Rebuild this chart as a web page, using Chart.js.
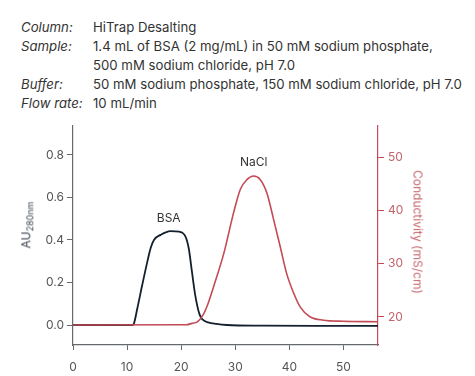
<!DOCTYPE html>
<html>
<head>
<meta charset="utf-8">
<script src="https://cdn.jsdelivr.net/npm/chart.js@4.4.0/dist/chart.umd.min.js"></script>
<style>
  html, body { margin: 0; padding: 0; background: #fff; }
  body { width: 475px; height: 376px; position: relative; overflow: hidden; font-family: Inter, Roboto, sans-serif; color: #333; }
  #chartWrap { position: absolute; left: 0; top: 0; width: 475px; height: 376px; }
  .hdr { position: absolute; font-size: 13.2px; line-height: 16px; white-space: nowrap; }
  .hdr i { position: absolute; left: 21px; }
  .hdr span { position: absolute; left: 93px; }
  .ytitle { position: absolute; font-size: 12px; white-space: nowrap; transform: translate(-50%, -50%); }
  .ytitle sub { font-size: 9px; }
</style>
</head>
<body>

<div class="hdr" style="top:19px"><i>Column:</i><span>HiTrap Desalting</span></div>
<div class="hdr" style="top:38px"><i>Sample:</i><span>1.4 mL of BSA (2 mg/mL) in 50 mM sodium phosphate,</span></div>
<div class="hdr" style="top:57px"><span>500 mM sodium chloride, pH 7.0</span></div>
<div class="hdr" style="top:76px"><i>Buffer:</i><span>50 mM sodium phosphate, 150 mM sodium chloride, pH 7.0</span></div>
<div class="hdr" style="top:95px"><i>Flow rate:</i><span>10 mL/min</span></div>

<div id="chartWrap"><canvas id="cromatograma" width="475" height="376"></canvas></div>

<div class="ytitle" style="left:27px; top:225px; color:#3a4450; transform: translate(-50%,-50%) rotate(-90deg);">AU<sub>280nm</sub></div>
<div class="ytitle" style="left:418px; top:232px; color:#c4656c; transform: translate(-50%,-50%) rotate(90deg);">Conductivity (mS/cm)</div>

<script>
// tempo (mL) e absorbancia do pico de BSA
const tempoBSA = [0, 11.0, 11.2, 11.9, 12.8, 13.75, 14.35, 14.97, 16.2, 18.0, 19.6, 20.8, 21.4, 22.0, 22.6, 23.4, 24.0, 25.0, 26.5, 28.5, 35, 45, 56.4]
const auBSA = [0, 0, 0.003, 0.079, 0.188, 0.298, 0.361, 0.40, 0.424, 0.442, 0.439, 0.416, 0.361, 0.25, 0.141, 0.05, 0.025, 0.012, 0.005, 0.0, -0.003, -0.004, -0.004]

// condutividade (NaCl)
const tempoNaCl = [0, 21.0, 22.0, 23.0, 24.0, 25.0, 26.0, 27.9, 29.7, 30.95, 32.2, 33.4, 34.6, 35.85, 37.1, 38.3, 39.5, 40.8, 42.0, 43.8, 46.3, 50, 56.4]
const condNaCl = [18.5, 18.55, 18.8, 19.1, 20.3, 22.6, 25.7, 32.0, 39.6, 44.0, 45.85, 46.5, 45.85, 43.3, 38.3, 33.3, 28.2, 24.5, 21.9, 20.05, 19.4, 19.2, 19.1]

const ticksX = [0, 10, 20, 30, 40, 50]
const ticksAU = [0, 0.2, 0.4, 0.6, 0.8]
const ticksCond = [20, 30, 40, 50]

const rotulos = [
    { texto: 'BSA', x: 17.7, y: 0.50, eixo: 'yAU' },
    { texto: 'NaCl', x: 33.4, y: 49.1, eixo: 'yCond' }
]

const corAzul = '#14202e'
const corVermelha = '#c24b55'
const corEixo = '#666a6e'
const fonte = 'Inter'

const rotulosPlugin = {
    id: 'rotulosPicos',
    afterDatasetsDraw(chart) {
        const ctx = chart.ctx
        ctx.save()
        ctx.font = '12px Inter, Roboto, sans-serif'
        ctx.fillStyle = '#333'
        ctx.textAlign = 'center'
        ctx.textBaseline = 'middle'
        rotulos.forEach(r => {
            const px = chart.scales.x.getPixelForValue(r.x)
            const py = chart.scales[r.eixo].getPixelForValue(r.y)
            ctx.fillText(r.texto, px, py)
        })
        ctx.restore()
    }
}

const fixarTicks = lista => scale => { scale.ticks = lista.map(v => ({ value: v })) }

new Chart(document.getElementById('cromatograma'), {
    type: 'line',
    data: {
        datasets: [{
            label: 'NaCl',
            data: tempoNaCl.map((t, i) => ({ x: t, y: condNaCl[i] })),
            yAxisID: 'yCond',
            borderColor: corVermelha,
            borderWidth: 1.6,
            pointRadius: 0,
            cubicInterpolationMode: 'monotone',
            order: 0
        }, {
            label: 'BSA',
            data: tempoBSA.map((t, i) => ({ x: t, y: auBSA[i] })),
            yAxisID: 'yAU',
            borderColor: corAzul,
            borderWidth: 1.8,
            pointRadius: 0,
            cubicInterpolationMode: 'monotone',
            order: 1
        }]
    },
    options: {
        responsive: false,
        animation: false,
        layout: { padding: { top: 126, left: 0, right: 0, bottom: 0 } },
        plugins: {
            legend: { display: false },
            tooltip: { enabled: false }
        },
        scales: {
            x: {
                type: 'linear',
                min: 0,
                max: 56.4,
                afterBuildTicks: fixarTicks(ticksX),
                afterFit: s => { s.height = 31 },
                border: { color: corEixo, width: 1.2 },
                grid: { drawOnChartArea: false, tickLength: 5, color: corEixo },
                ticks: { color: '#555', padding: 10, font: { size: 12, family: fonte } }
            },
            yAU: {
                type: 'linear',
                position: 'left',
                min: -0.094,
                max: 0.936,
                afterBuildTicks: fixarTicks(ticksAU),
                afterFit: s => { s.width = 73 },
                border: { color: corEixo, width: 1.2 },
                grid: { drawOnChartArea: false, tickLength: 6, color: corEixo },
                ticks: {
                    color: '#555',
                    padding: 3,
                    font: { size: 12, family: fonte },
                    callback: v => v.toFixed(1)
                }
            },
            yCond: {
                type: 'linear',
                position: 'right',
                min: 14.74,
                max: 55.88,
                afterBuildTicks: fixarTicks(ticksCond),
                afterFit: s => { s.width = 97 },
                border: { color: corVermelha, width: 1.2 },
                grid: { drawOnChartArea: false, tickLength: 6, color: corVermelha },
                ticks: { color: '#c4656c', padding: 4, font: { size: 12, family: fonte } }
            }
        }
    },
    plugins: [rotulosPlugin]
})
</script>
</body>
</html>
